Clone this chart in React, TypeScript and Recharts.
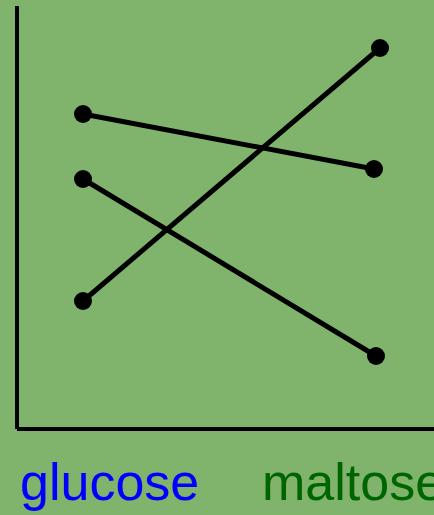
import React from 'react';
import { ScatterChart, Scatter, XAxis, YAxis } from 'recharts';

// x in the plot's own units (0 = y axis), y measured upward from the x axis
const categories = ['glucose', 'maltose'];
const categoryTicks = [3, 245];
const categoryColors = ['#0000ff', '#006400'];

const seriesA = [
  { x: 66, y: 315 },
  { x: 357, y: 260 },
];
const seriesB = [
  { x: 66, y: 250 },
  { x: 359, y: 73 },
];
const seriesC = [
  { x: 66, y: 128 },
  { x: 363, y: 381 },
];

const allSeries = [seriesA, seriesB, seriesC];

const Dot = (props: any) => <circle cx={props.cx} cy={props.cy} r={9} fill="#000" />;

const CategoryTick = (props: any) => {
  const i = categoryTicks.indexOf(props.payload.value);
  return (
    <text
      x={props.x}
      y={500}
      textAnchor="start"
      fontFamily="'Liberation Sans', Arial, sans-serif"
      fontSize={52}
      fill={categoryColors[i]}
    >
      {categories[i]}
    </text>
  );
};

export default function App() {
  return (
    <div style={{ position: 'fixed', left: 0, top: 0, width: 434, height: 515, background: '#80b46c' }}>
      <ScatterChart width={434} height={515} margin={{ top: 6, right: 0, bottom: 0, left: 15 }}>
        <XAxis
          type="number"
          dataKey="x"
          domain={[0, 417]}
          ticks={categoryTicks}
          tick={<CategoryTick />}
          tickLine={false}
          axisLine={{ stroke: '#000', strokeWidth: 4 }}
          height={86}
          allowDataOverflow
        />
        <YAxis
          type="number"
          dataKey="y"
          domain={[0, 423]}
          width={2}
          tick={false}
          tickLine={false}
          axisLine={{ stroke: '#000', strokeWidth: 4 }}
          allowDataOverflow
        />
        {allSeries.map((s, i) => (
          <Scatter
            key={i}
            data={s}
            line={{ stroke: '#000', strokeWidth: 5 }}
            strokeWidth={5}
            shape={<Dot />}
            isAnimationActive={false}
          />
        ))}
      </ScatterChart>
    </div>
  );
}
